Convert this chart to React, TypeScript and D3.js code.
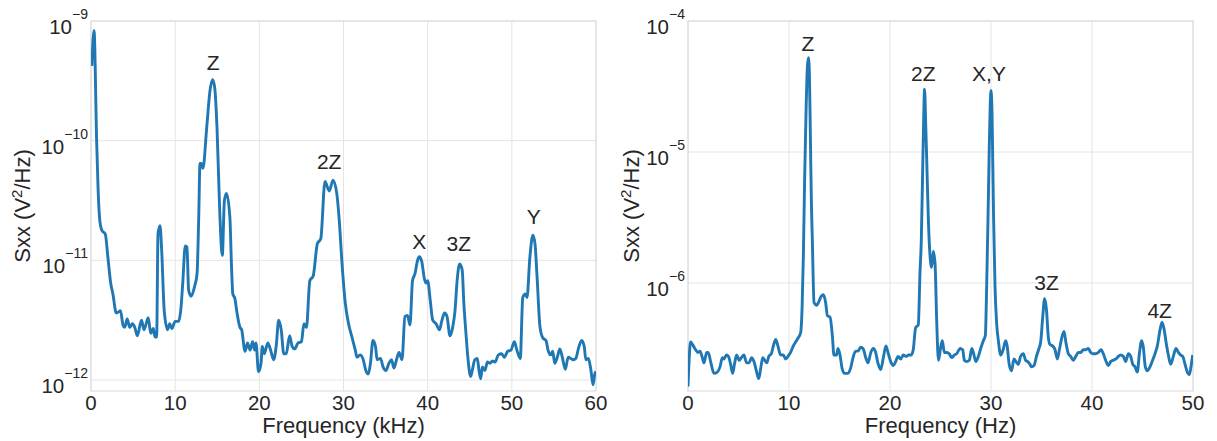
import React from "react";
import * as d3 from "d3";

// ---------- Data ----------
// Left panel: frequency (kHz) and log10 of Sxx (V^2/Hz)
const leftFreq = [
  0.1, 0.36, 0.67, 0.85, 1.05, 1.3, 1.7, 2.0, 2.34, 2.6, 3.0, 3.3, 3.5, 3.8, 4.0, 4.3, 4.6, 4.9, 5.2, 5.5,
  6.0, 6.3, 6.8, 7.1, 7.4, 7.6, 7.8, 7.96, 8.2, 8.4, 8.7, 9.1, 9.35, 9.6, 10.0, 10.4, 10.7, 10.9, 11.2, 11.4,
  11.6, 11.9, 12.3, 12.6, 12.8, 12.95, 13.1, 13.3, 13.75, 14.14, 14.45, 14.7, 14.97, 15.3, 15.6, 15.85, 16.1, 16.5, 16.7, 16.85,
  17.1, 17.35, 17.7, 17.9, 18.3, 18.6, 18.9, 19.2, 19.45, 19.6, 19.9, 20.2, 20.35, 20.6, 21.0, 21.3, 21.7, 22.0, 22.3, 22.6,
  22.9, 23.2, 23.6, 23.9, 24.2, 24.6, 25.0, 25.3, 25.6, 26.0, 26.4, 26.9, 27.3, 27.8, 28.3, 28.75, 29.2, 29.5, 29.8, 30.2,
  30.6, 31.0, 31.4, 31.6, 31.96, 32.3, 32.7, 32.95, 33.2, 33.5, 33.8, 34.0, 34.4, 34.7, 35.05, 35.4, 35.7, 36.0, 36.3, 36.6,
  36.95, 37.3, 37.6, 37.9, 38.2, 38.5, 38.8, 39.0, 39.3, 39.6, 39.8, 40.0, 40.3, 40.6, 41.0, 41.4, 41.7, 42.0, 42.3, 42.65,
  42.97, 43.25, 43.5, 43.8, 44.1, 44.3, 44.55, 44.8, 45.1, 45.3, 45.6, 45.9, 46.1, 46.3, 46.5, 46.8, 47.1, 47.4, 47.7, 48.0,
  48.4, 48.8, 49.1, 49.5, 49.9, 50.3, 50.6, 51.0, 51.3, 51.6, 51.8, 52.15, 52.5, 52.75, 53.0, 53.35, 53.7, 54.06, 54.3, 54.6,
  54.85, 55.1, 55.4, 55.7, 56.0, 56.35, 56.7, 57.0, 57.3, 57.6, 57.9, 58.3, 58.6, 58.8, 59.1, 59.4, 59.65, 59.85, 60.0,
];
const leftLogSxx = [
  -9.375, -9.08, -10.0, -10.42, -10.67, -10.75, -10.78, -10.97, -11.19, -11.28, -11.44, -11.43, -11.42, -11.54, -11.56, -11.49, -11.56, -11.53, -11.56, -11.63,
  -11.5, -11.58, -11.48, -11.61, -11.57, -11.64, -11.64, -10.78, -10.71, -10.92, -11.42, -11.58, -11.53, -11.57, -11.51, -11.51, -11.39, -11.19, -10.88, -10.89,
  -11.25, -11.3, -11.22, -11.11, -10.64, -10.19, -10.19, -10.23, -9.89, -9.58, -9.49, -9.56, -9.89, -10.6, -10.96, -10.5, -10.44, -10.64, -11.06, -11.28,
  -11.32, -11.44, -11.56, -11.58, -11.76, -11.69, -11.75, -11.68, -11.75, -11.69, -11.93, -11.86, -11.72, -11.78, -11.69, -11.74, -11.83, -11.72, -11.5, -11.58,
  -11.78, -11.78, -11.63, -11.72, -11.74, -11.69, -11.68, -11.53, -11.56, -11.17, -11.13, -10.86, -10.82, -10.34, -10.42, -10.33, -10.44, -10.67, -11.0, -11.35,
  -11.53, -11.64, -11.75, -11.81, -11.79, -11.82, -11.93, -11.95, -11.86, -11.67, -11.72, -11.83, -11.82, -11.89, -11.92, -11.86, -11.83, -11.9, -11.83, -11.77,
  -11.83, -11.47, -11.46, -11.54, -11.17, -11.11, -11.0, -10.97, -11.01, -11.15, -11.19, -11.17, -11.33, -11.5, -11.53, -11.58, -11.5, -11.44, -11.47, -11.63,
  -11.56, -11.42, -11.17, -11.03, -11.08, -11.36, -11.61, -11.83, -11.97, -11.92, -11.83, -11.82, -11.92, -11.99, -11.89, -11.92, -11.85, -11.86, -11.84, -11.85,
  -11.79, -11.78, -11.81, -11.76, -11.75, -11.68, -11.75, -11.82, -11.31, -11.28, -11.31, -10.97, -10.79, -10.86, -11.14, -11.56, -11.65, -11.67, -11.75, -11.79,
  -11.76, -11.86, -11.81, -11.74, -11.81, -11.91, -11.81, -11.82, -11.83, -11.82, -11.74, -11.67, -11.72, -11.83, -11.82, -11.92, -12.04, -11.95, -11.93,
];

// Right panel: frequency (Hz) and log10 of Sxx (V^2/Hz)
const rightFreq = [
  0.0, 0.26, 0.53, 0.76, 0.99, 1.19, 1.42, 1.58, 1.85, 2.0, 2.24, 2.57, 2.9, 3.17, 3.4, 3.56, 3.8, 4.0, 4.22, 4.42,
  4.62, 4.82, 5.08, 5.28, 5.54, 5.8, 6.04, 6.3, 6.53, 6.77, 7.0, 7.2, 7.4, 7.6, 7.8, 8.0, 8.25, 8.45, 8.68, 8.9,
  9.17, 9.44, 9.67, 9.9, 10.16, 10.43, 10.66, 10.9, 11.15, 11.3, 11.42, 11.55, 11.7, 11.82, 11.92, 12.02, 12.12, 12.22, 12.31, 12.48,
  12.74, 12.97, 13.2, 13.4, 13.63, 13.8, 14.06, 14.3, 14.45, 14.7, 14.85, 15.05, 15.28, 15.5, 15.84, 16.1, 16.34, 16.6, 16.83, 17.1,
  17.33, 17.6, 17.82, 18.1, 18.35, 18.58, 18.8, 19.08, 19.34, 19.6, 19.8, 20.07, 20.33, 20.56, 20.8, 21.06, 21.32, 21.58, 21.85, 22.1,
  22.3, 22.54, 22.8, 22.97, 23.1, 23.22, 23.32, 23.42, 23.54, 23.65, 23.8, 24.03, 24.12, 24.29, 24.46, 24.62, 24.8, 25.02, 25.18, 25.38,
  25.61, 25.87, 26.1, 26.37, 26.6, 26.93, 27.2, 27.36, 27.59, 27.85, 28.1, 28.25, 28.5, 28.75, 28.98, 29.24, 29.44, 29.57, 29.7, 29.82,
  29.92, 30.0, 30.1, 30.18, 30.26, 30.4, 30.56, 30.73, 30.96, 31.2, 31.45, 31.6, 31.8, 32.04, 32.27, 32.47, 32.7, 32.93, 33.2, 33.43,
  33.63, 33.86, 34.0, 34.26, 34.5, 34.75, 34.92, 35.12, 35.31, 35.5, 35.67, 35.84, 36.1, 36.34, 36.57, 36.77, 37.0, 37.23, 37.43, 37.66,
  37.89, 38.15, 38.39, 38.65, 38.88, 39.14, 39.37, 39.64, 39.87, 40.13, 40.36, 40.63, 40.9, 41.12, 41.35, 41.62, 41.85, 42.11, 42.38, 42.61,
  42.84, 43.1, 43.33, 43.6, 43.83, 44.03, 44.26, 44.49, 44.69, 44.92, 45.08, 45.28, 45.48, 45.74, 46.0, 46.24, 46.47, 46.73, 46.93, 47.13,
  47.33, 47.56, 47.79, 48.05, 48.32, 48.55, 48.78, 48.98, 49.21, 49.44, 49.64, 49.8, 49.97,
];
const rightLogSxx = [
  -6.79, -6.45, -6.48, -6.51, -6.53, -6.52, -6.57, -6.61, -6.53, -6.53, -6.6, -6.69, -6.68, -6.64, -6.57, -6.58, -6.55, -6.56, -6.62, -6.69,
  -6.61, -6.55, -6.59, -6.57, -6.55, -6.61, -6.61, -6.57, -6.6, -6.67, -6.73, -6.65, -6.57, -6.59, -6.61, -6.56, -6.54, -6.48, -6.43, -6.48,
  -6.55, -6.55, -6.58, -6.56, -6.53, -6.48, -6.45, -6.42, -6.38, -6.18, -5.8, -5.2, -4.65, -4.35, -4.28, -4.4, -4.9, -5.4, -5.67, -6.15,
  -6.17, -6.14, -6.1, -6.09, -6.15, -6.25, -6.26, -6.41, -6.55, -6.55, -6.5, -6.55, -6.66, -6.69, -6.69, -6.65, -6.57, -6.52, -6.52, -6.49,
  -6.5, -6.57, -6.61, -6.53, -6.5, -6.53, -6.61, -6.66, -6.57, -6.48, -6.53, -6.6, -6.63, -6.6, -6.56, -6.58, -6.55, -6.56, -6.55, -6.55,
  -6.51, -6.34, -6.32, -5.92, -5.67, -5.2, -4.8, -4.52, -4.8, -5.1, -5.52, -5.85, -5.88, -5.76, -5.85, -6.28, -6.59, -6.49, -6.44, -6.53,
  -6.53, -6.54, -6.57, -6.55, -6.54, -6.5, -6.51, -6.59, -6.6, -6.59, -6.5, -6.53, -6.6, -6.56, -6.5, -6.44, -6.4, -6.03, -5.52, -5.0,
  -4.65, -4.53, -4.7, -5.1, -5.52, -6.03, -6.31, -6.44, -6.55, -6.51, -6.44, -6.48, -6.62, -6.67, -6.58, -6.6, -6.62, -6.56, -6.54, -6.59,
  -6.6, -6.62, -6.64, -6.63, -6.56, -6.5, -6.45, -6.26, -6.12, -6.21, -6.41, -6.47, -6.48, -6.51, -6.58, -6.51, -6.42, -6.37, -6.46, -6.54,
  -6.56, -6.59, -6.56, -6.53, -6.53, -6.51, -6.51, -6.5, -6.53, -6.54, -6.54, -6.53, -6.51, -6.54, -6.59, -6.63, -6.6, -6.59, -6.58, -6.56,
  -6.55, -6.56, -6.6, -6.54, -6.56, -6.62, -6.64, -6.68, -6.54, -6.44, -6.49, -6.64, -6.67, -6.64, -6.59, -6.54, -6.48, -6.36, -6.3, -6.35,
  -6.45, -6.55, -6.62, -6.56, -6.5, -6.53, -6.55, -6.56, -6.62, -6.68, -6.7, -6.64, -6.55,
];

// Tick values
const leftXTicks = [0, 10, 20, 30, 40, 50, 60];
const leftYExps = [-9, -10, -11, -12];
const rightXTicks = [0, 10, 20, 30, 40, 50];
const rightYExps = [-4, -5, -6];

// Peak annotations: label, frequency, log10 Sxx
const leftLabels = ["Z", "2Z", "X", "3Z", "Y"];
const leftLabelFreq = [14.5, 28.3, 39.0, 43.7, 52.6];
const leftLabelLog = [-9.408, -10.233, -10.908, -10.925, -10.7];
const rightLabels = ["Z", "2Z", "X,Y", "3Z", "4Z"];
const rightLabelFreq = [11.88, 23.3, 29.8, 35.5, 46.7];
const rightLabelLog = [-4.231, -4.46, -4.46, -6.056, -6.27];

const FONT = "'Liberation Sans', Arial, Helvetica, sans-serif";
const TEXT = "#262626";
const GRID = "#e4e4e4";
const FRAME = "#dadada";
const LINE = "#1f77b4";

type PanelProps = {
  x0: number;
  x1: number;
  xMax: number;
  yTopExp: number;
  yBottomExp: number;
  freq: number[];
  logs: number[];
  xTicks: number[];
  yExps: number[];
  labels: string[];
  labelFreq: number[];
  labelLog: number[];
  xTitle: string;
  yTitleX: number;
};

const TOP = 21;
const BOTTOM = 391;

function Panel(p: PanelProps) {
  const x = d3.scaleLinear().domain([0, p.xMax]).range([p.x0, p.x1]);
  const y = d3
    .scaleLog()
    .domain([Math.pow(10, p.yBottomExp), Math.pow(10, p.yTopExp)])
    .range([BOTTOM, TOP]);
  const pts: [number, number][] = p.freq.map((f, i) => [f, Math.pow(10, p.logs[i])]);
  const line = d3
    .line<[number, number]>()
    .x((d) => x(d[0]))
    .y((d) => y(d[1]))
    .curve(d3.curveMonotoneX);
  const cx = (p.x0 + p.x1) / 2;
  const cy = (TOP + BOTTOM) / 2;
  const clipId = `clip-${p.x0}`;
  return (
    <g>
      <defs>
        <clipPath id={clipId}>
          <rect x={p.x0} y={TOP - 4} width={p.x1 - p.x0} height={BOTTOM - TOP + 4} />
        </clipPath>
      </defs>
      {p.xTicks.map((t) => (
        <line key={"gx" + t} x1={x(t)} x2={x(t)} y1={TOP} y2={BOTTOM} stroke={GRID} strokeWidth={1} />
      ))}
      {p.yExps.map((e) => (
        <line
          key={"gy" + e}
          x1={p.x0}
          x2={p.x1}
          y1={y(Math.pow(10, e))}
          y2={y(Math.pow(10, e))}
          stroke={GRID}
          strokeWidth={1}
        />
      ))}
      <rect x={p.x0} y={TOP} width={p.x1 - p.x0} height={BOTTOM - TOP} fill="none" stroke={FRAME} strokeWidth={1} />
      <path d={line(pts) || ""} fill="none" stroke={LINE} strokeWidth={2.9} strokeLinejoin="round" clipPath={`url(#${clipId})`} />
      {p.xTicks.map((t) => (
        <text key={"tx" + t} x={x(t)} y={410} textAnchor="middle" fontSize={20.5} fill={TEXT} fontFamily={FONT}>
          {t}
        </text>
      ))}
      {p.yExps.map((e) => {
        const yy = y(Math.pow(10, e));
        return (
          <text key={"ty" + e} x={p.x0 - 3} y={yy + 13} textAnchor="end" fill={TEXT} fontFamily={FONT} fontSize={20.5}>
            <tspan>10</tspan>
            <tspan dy={-15} fontSize={14}>
              {"\u2212" + Math.abs(e)}
            </tspan>
          </text>
        );
      })}
      {p.labels.map((l, i) => (
        <text
          key={"lab" + i}
          x={x(p.labelFreq[i])}
          y={y(Math.pow(10, p.labelLog[i]))}
          textAnchor="middle"
          fontSize={21}
          fill={TEXT}
          fontFamily={FONT}
        >
          {l}
        </text>
      ))}
      <text x={cx} y={433} textAnchor="middle" fontSize={22} fill={TEXT} fontFamily={FONT}>
        {p.xTitle}
      </text>
      <text
        transform={`translate(${p.yTitleX},${cy}) rotate(-90)`}
        textAnchor="middle"
        fontSize={22}
        fill={TEXT}
        fontFamily={FONT}
      >
        <tspan>Sxx (V</tspan>
        <tspan dy={-8} fontSize={15}>2</tspan>
        <tspan dy={8}>/Hz)</tspan>
      </text>
    </g>
  );
}

export default function App() {
  return (
    <svg
      width={1217}
      height={441}
      viewBox="0 0 1217 441"
      style={{ position: "absolute", left: 0, top: 0, background: "#ffffff" }}
    >
      <rect x={0} y={0} width={1217} height={441} fill="#ffffff" />
      <Panel
        x0={91}
        x1={596}
        xMax={60}
        yTopExp={-9}
        yBottomExp={-12.0917}
        freq={leftFreq}
        logs={leftLogSxx}
        xTicks={leftXTicks}
        yExps={leftYExps}
        labels={leftLabels}
        labelFreq={leftLabelFreq}
        labelLog={leftLabelLog}
        xTitle="Frequency (kHz)"
        yTitleX={30}
      />
      <Panel
        x0={688}
        x1={1193}
        xMax={50}
        yTopExp={-4}
        yBottomExp={-6.8244}
        freq={rightFreq}
        logs={rightLogSxx}
        xTicks={rightXTicks}
        yExps={rightYExps}
        labels={rightLabels}
        labelFreq={rightLabelFreq}
        labelLog={rightLabelLog}
        xTitle="Frequency (Hz)"
        yTitleX={639}
      />
    </svg>
  );
}
